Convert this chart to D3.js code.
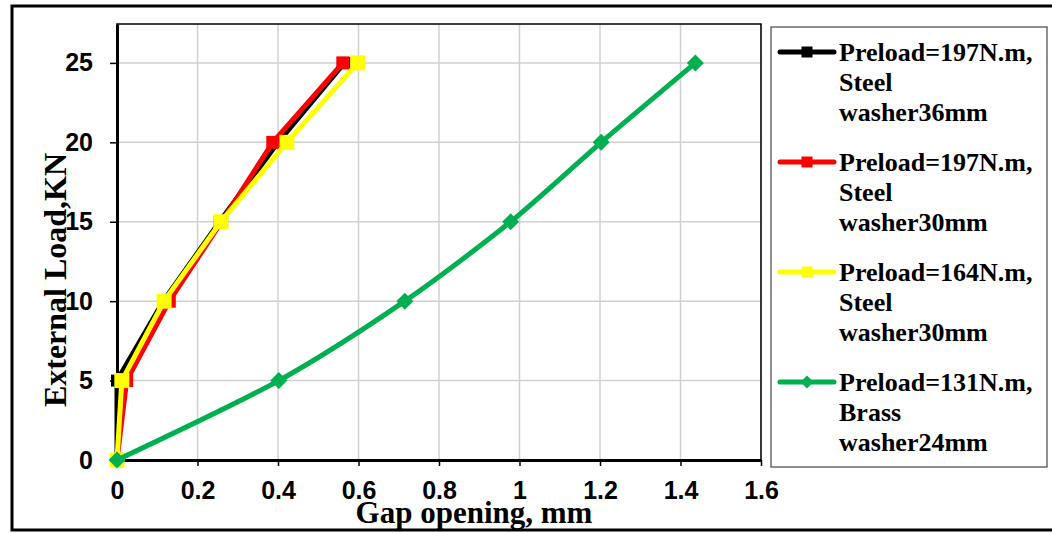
<!DOCTYPE html>
<html>
<head>
<meta charset="utf-8">
<script src="https://cdn.jsdelivr.net/npm/d3@7"></script>
<style>
	body { margin: 0; background: #fff; }
	svg { display: block; }
</style>
</head>
<body>
<div id="chart-area"></div>
<script>
// values
var loadKN = [0, 5, 10, 15, 20, 25];
var gapSteel36 = [0, 0, 0.115, 0.255, 0.40, 0.565];
var gapSteel30 = [0, 0.024, 0.13, 0.26, 0.387, 0.561];
var gapSteel30b = [0, 0.012, 0.117, 0.258, 0.422, 0.598];
var gapBrass24 = [0, 0.402, 0.715, 0.978, 1.203, 1.437];

var seriesNames = [
	["Preload=197N.m,", "Steel", "washer36mm"],
	["Preload=197N.m,", "Steel", "washer30mm"],
	["Preload=164N.m,", "Steel", "washer30mm"],
	["Preload=131N.m,", "Brass", "washer24mm"]
];
var xTicks = [0, 0.2, 0.4, 0.6, 0.8, 1, 1.2, 1.4, 1.6];
var yTicks = [0, 5, 10, 15, 20, 25];

var series = [
	{ gap: gapSteel36, color: "#000000", shape: "square", size: 12 },
	{ gap: gapSteel30, color: "#ff0000", shape: "square", size: 13 },
	{ gap: gapSteel30b, color: "#ffff00", shape: "square", size: 15 },
	{ gap: gapBrass24, color: "#00b050", shape: "diamond", size: 17 }
];

var width = 1052;
var height = 533;
var plot = { left: 117, right: 761, top: 24, bottom: 460 };

var svg = d3.select("#chart-area")
	.append("svg")
	.attr("width", width)
	.attr("height", height);

// outer chart frame
svg.append("rect")
	.attr("x", 12)
	.attr("y", 6)
	.attr("width", width + 20)
	.attr("height", 524)
	.attr("fill", "#fff")
	.attr("stroke", "#000")
	.attr("stroke-width", 3);

var x = d3.scaleLinear()
	.domain([0, 1.6])
	.range([plot.left, plot.right]);
var y = d3.scaleLinear()
	.domain([0, 27.45])
	.range([plot.bottom, plot.top]);

// grid
svg.append("g")
	.selectAll("line")
	.data(xTicks.slice(1))
	.enter()
	.append("line")
	.attr("x1", d => x(d)).attr("x2", d => x(d))
	.attr("y1", plot.top).attr("y2", plot.bottom)
	.attr("stroke", "#d0d0d0")
	.attr("stroke-width", 1.5);
svg.append("g")
	.selectAll("line")
	.data(yTicks.slice(1))
	.enter()
	.append("line")
	.attr("x1", plot.left).attr("x2", plot.right)
	.attr("y1", d => y(d)).attr("y2", d => y(d))
	.attr("stroke", "#d0d0d0")
	.attr("stroke-width", 1.5);

// plot frame (top/right)
svg.append("rect")
	.attr("x", plot.left)
	.attr("y", plot.top)
	.attr("width", plot.right - plot.left)
	.attr("height", plot.bottom - plot.top)
	.attr("fill", "none")
	.attr("stroke", "#000")
	.attr("stroke-width", 1.5);

// axes
var xAxisCall = d3.axisBottom(x)
	.tickValues(xTicks)
	.tickSize(6)
	.tickSizeOuter(0)
	.tickFormat(d => d3.format("~g")(d));
var xAxisGroup = svg.append("g")
	.attr("transform", `translate(0, ${plot.bottom})`)
	.call(xAxisCall);

var yAxisCall = d3.axisLeft(y)
	.tickValues(yTicks)
	.tickSize(7)
	.tickSizeOuter(0);
var yAxisGroup = svg.append("g")
	.attr("transform", `translate(${plot.left}, 0)`)
	.call(yAxisCall);

[xAxisGroup, yAxisGroup].forEach(g => {
	g.select(".domain").attr("stroke", "#000").attr("stroke-width", 3);
	g.selectAll(".tick line").attr("stroke", "#000").attr("stroke-width", 1.5);
	g.selectAll(".tick text")
		.attr("font-family", "Liberation Sans, Arial, sans-serif")
		.attr("font-weight", "bold")
		.attr("font-size", "25px")
		.attr("fill", "#000");
});
xAxisGroup.selectAll(".tick text").attr("y", 21);
yAxisGroup.selectAll(".tick text").attr("x", -24);

// axis labels
svg.append("text")
	.attr("x", 474)
	.attr("y", 523)
	.attr("text-anchor", "middle")
	.attr("font-family", "Liberation Serif, Times New Roman, serif")
	.attr("font-weight", "bold")
	.attr("font-size", "31px")
	.text("Gap opening, mm");

svg.append("text")
	.attr("transform", "translate(66, 280) rotate(-90)")
	.attr("text-anchor", "middle")
	.attr("font-family", "Liberation Serif, Times New Roman, serif")
	.attr("font-weight", "bold")
	.attr("font-size", "32px")
	.text("External Load,KN");

// series
function markerPath(shape, size) {
	if (shape === "diamond") {
		var r = size / 2;
		return `M0,${-r}L${r},0L0,${r}L${-r},0Z`;
	}
	return `M${-size / 2},${-size / 2}h${size}v${size}h${-size}Z`;
}

series.forEach((s, i) => {
	var pts = s.gap.map((g, j) => [g, loadKN[j]]);
	var line = d3.line()
		.x(d => x(d[0]))
		.y(d => y(d[1]))
		.curve(s.shape === "diamond" ? d3.curveCardinal.tension(0.2) : d3.curveLinear);

	var g = svg.append("g");
	g.append("path")
		.attr("d", line(pts))
		.attr("fill", "none")
		.attr("stroke", s.color)
		.attr("stroke-width", 5)
		.attr("stroke-linejoin", "round");
	g.selectAll(".pt")
		.data(pts)
		.enter()
		.append("path")
		.attr("class", "pt")
		.attr("transform", d => `translate(${x(d[0])}, ${y(d[1])})`)
		.attr("d", markerPath(s.shape, s.size))
		.attr("fill", s.color);
});

// legend
var legend = svg.append("g");
legend.append("rect")
	.attr("x", 771)
	.attr("y", 27)
	.attr("width", 276)
	.attr("height", 440)
	.attr("fill", "#fff")
	.attr("stroke", "#444")
	.attr("stroke-width", 1.2);

series.forEach((s, i) => {
	var base = 61 + i * 110;
	var item = legend.append("g");
	item.append("line")
		.attr("x1", 780).attr("x2", 834)
		.attr("y1", base - 9).attr("y2", base - 9)
		.attr("stroke", s.color)
		.attr("stroke-width", 5)
		.attr("stroke-linecap", "round");
	item.append("path")
		.attr("transform", `translate(807, ${base - 9})`)
		.attr("d", markerPath(s.shape, s.shape === "diamond" ? 13 : 11))
		.attr("fill", s.color);
	seriesNames[i].forEach((txt, k) => {
		item.append("text")
			.attr("x", 839)
			.attr("y", base + k * 30)
			.attr("font-family", "Liberation Serif, Times New Roman, serif")
			.attr("font-weight", "bold")
			.attr("font-size", "26px")
			.text(txt);
	});
});
</script>
</body>
</html>
